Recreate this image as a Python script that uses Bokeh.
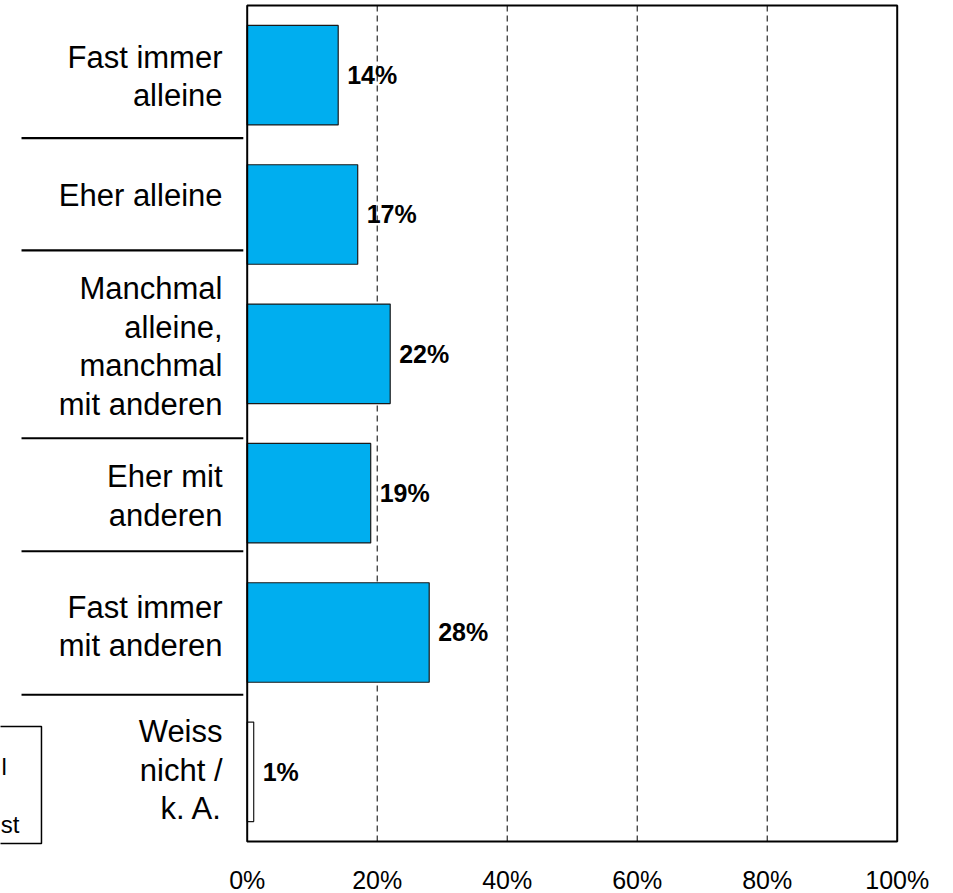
from bokeh.plotting import figure
from bokeh.models import Range1d, ColumnDataSource
from bokeh.core.properties import value
from bokeh.embed import file_html
from bokeh.resources import INLINE

# ---- data ----
categories = [
    "Fast immer\nalleine",
    "Eher alleine",
    "Manchmal\nalleine,\nmanchmal\nmit anderen",
    "Eher mit\nanderen",
    "Fast immer\nmit anderen",
    "Weiss\nnicht /\nk. A.",
]
values = [14, 17, 22, 19, 28, 1]
value_labels = ["14%", "17%", "22%", "19%", "28%", "1%"]
tick_values = [0, 20, 40, 60, 80, 100]
tick_labels = ["0%", "20%", "40%", "60%", "80%", "100%"]
grid_values = [20, 40, 60, 80]
legend_fragments = ["l", "st"]

# ---- layout helpers (positions in category units) ----
label_y = [0.01, 0.865, 1.946, 3.02, 3.957, 4.99]
separator_y = [0.452, 1.258, 2.606, 3.417, 4.447]
tick_label_y = 5.773
legend_y = [4.96, 5.378]
legend_x = [-37.8, -37.9]

BLUE = "#00AEEF"
idx = list(range(len(categories)))
bar_colors = [BLUE] * (len(categories) - 1) + ["#FFFFFF"]

bars = ColumnDataSource(dict(y=idx, right=values, color=bar_colors,
                             lab=value_labels))
cats = ColumnDataSource(dict(y=label_y, text=categories,
                             x=[-3.8] * len(categories)))
ticks = ColumnDataSource(dict(x=tick_values, text=tick_labels,
                              y=[tick_label_y] * len(tick_values)))

p = figure(width=953, height=893,
           x_range=Range1d(-37.954, 108.66),
           y_range=Range1d(5.8733, -0.53589),
           x_axis_type=None, y_axis_type=None,
           output_backend="svg", toolbar_location=None,
           min_border=0, outline_line_color=None)
p.background_fill_color = "white"
p.border_fill_color = "white"

# dashed gridlines
p.segment(x0=grid_values, x1=grid_values, y0=[-0.5] * 4, y1=[5.5] * 4,
          line_color="black", line_width=1, line_dash="6 4")

# bars
p.hbar(y="y", left=0, right="right", height=0.714, source=bars,
       fill_color="color", line_color="#1a1a1a", line_width=1.2)

# value labels
p.text(x="right", y="y", text="lab", source=bars, x_offset=9,
       text_align="left", text_baseline="middle",
       text_font=value("Liberation Sans"), text_font_size="25px",
       text_font_style="bold", text_color="black")

# plot frame
p.quad(left=0, right=100, top=-0.5, bottom=5.5,
       fill_color=None, line_color="black", line_width=2)

# category labels
p.text(x="x", y="y", text="text", source=cats,
       text_align="right", text_baseline="middle",
       text_font=value("Liberation Sans"), text_font_size="31px",
       text_line_height=1.1, text_color="black")

# category separators
n = len(separator_y)
p.segment(x0=[-34.72] * n, x1=[-0.6] * n, y0=separator_y, y1=separator_y,
          line_color="black", line_width=2.2)

# partially visible legend box at the left edge
p.quad(left=-40, right=-31.65, top=4.675, bottom=5.5145,
       fill_color=None, line_color="black", line_width=1.5)
p.text(x=legend_x, y=legend_y, text=legend_fragments,
       text_align="left", text_baseline="alphabetic",
       text_font=value("Liberation Sans"), text_font_size="24px",
       text_color="black")

# x tick labels (percent scale)
p.text(x="x", y="y", text="text", source=ticks,
       text_align="center", text_baseline="middle",
       text_font=value("Liberation Sans"), text_font_size="25px",
       text_color="black")

open("out.html", "w").write(file_html(p, INLINE))
